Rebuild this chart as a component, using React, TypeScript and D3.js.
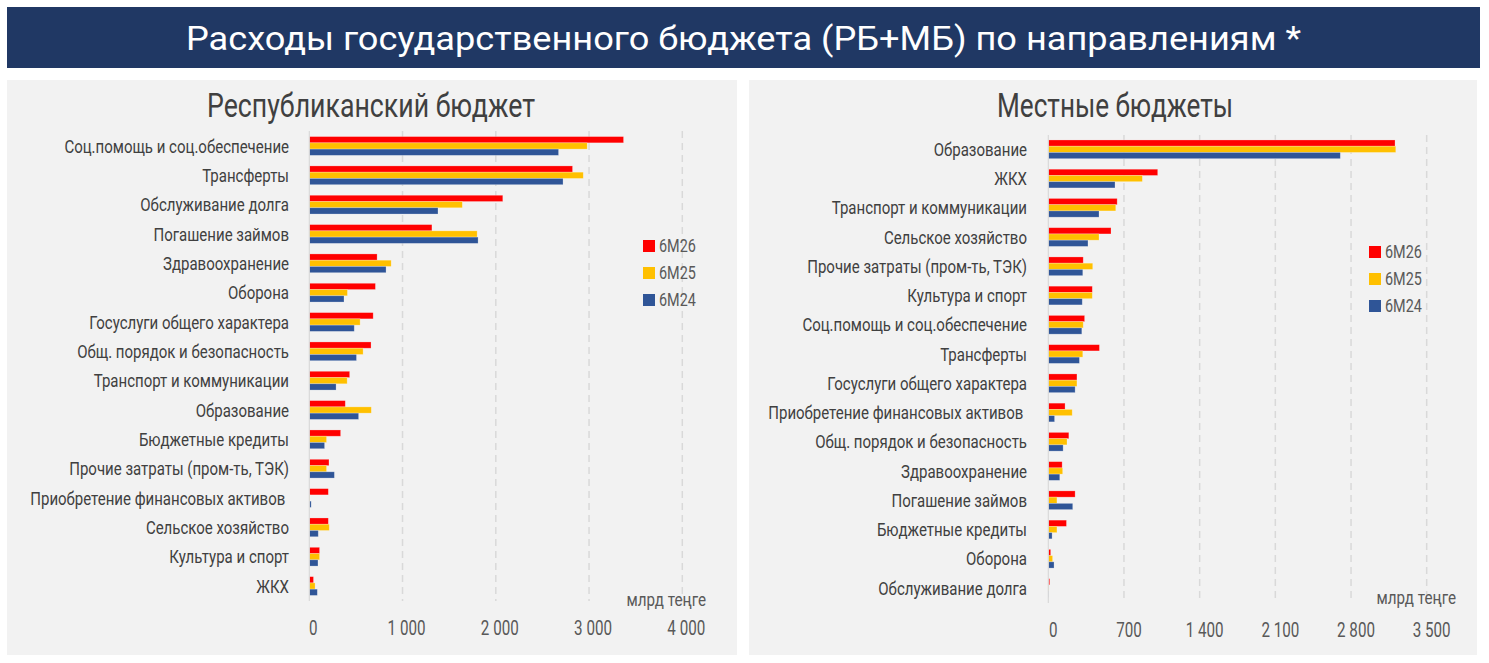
import * as d3 from 'd3';

// ---- data ----
const series = ['6М26', '6М25', '6М24'];
const colors = ['#FF0000', '#FFC000', '#2F5597'];

const rbCategories = [
  'Соц.помощь и соц.обеспечение',
  'Трансферты',
  'Обслуживание долга',
  'Погашение займов',
  'Здравоохранение',
  'Оборона',
  'Госуслуги общего характера',
  'Общ. порядок и безопасность',
  'Транспорт и коммуникации',
  'Образование',
  'Бюджетные кредиты',
  'Прочие затраты (пром-ть, ТЭК)',
  'Приобретение финансовых активов ',
  'Сельское хозяйство',
  'Культура и спорт',
  'ЖКХ',
];
const rb26 = [3370, 2823, 2075, 1315, 727, 709, 685, 662, 433, 386, 336, 211, 204, 204, 110, 45];
const rb25 = [2980, 2938, 1641, 1800, 878, 409, 545, 577, 406, 665, 185, 185, 7, 214, 110, 62];
const rb24 = [2673, 2721, 1380, 1810, 823, 372, 482, 506, 287, 529, 164, 269, 20, 96, 93, 86];
const rbTicks = [0, 1000, 2000, 3000, 4000];

const mbCategories = [
  'Образование',
  'ЖКХ',
  'Транспорт и коммуникации',
  'Сельское хозяйство',
  'Прочие затраты (пром-ть, ТЭК)',
  'Культура и спорт',
  'Соц.помощь и соц.обеспечение',
  'Трансферты',
  'Госуслуги общего характера',
  'Приобретение финансовых активов ',
  'Общ. порядок и безопасность',
  'Здравоохранение',
  'Погашение займов',
  'Бюджетные кредиты',
  'Оборона',
  'Обслуживание долга',
];
const mb26 = [3207, 1012, 637, 580, 323, 407, 336, 473, 265, 155, 190, 128, 248, 168, 22, 13];
const mb25 = [3214, 870, 624, 469, 411, 407, 323, 319, 265, 221, 173, 133, 80, 80, 40, 4];
const mb24 = [2701, 617, 469, 367, 319, 314, 310, 288, 248, 58, 137, 106, 226, 35, 53, 4];
const mbTicks = [0, 700, 1400, 2100, 2800, 3500];

const FONT = "Roboto, 'Noto Sans', sans-serif";
const fmt = d3.formatLocale({ decimal: ',', thousands: ' ', grouping: [3], currency: ['', ''] }).format(',');

// condensed text: Roboto squeezed horizontally
const CText = ({ x, y, children, size, sx = 0.8, anchor = 'start', fill = '#404040' }: any) => (
  <g transform={`translate(${x},${y}) scale(${sx},1)`}>
    <text
      textAnchor={anchor}
      dominantBaseline="central"
      fontSize={size}
      fontFamily={FONT}
      fill={fill}
      style={{ whiteSpace: 'pre' }}
    >
      {children}
    </text>
  </g>
);

const Panel = ({ cfg }: { cfg: any }) => {
  const { categories, values, ticks, px } = cfg;
  const x = d3.scaleLinear().domain([0, ticks[ticks.length - 1]]).range([px.x0, px.x1]);
  const y = d3.scaleBand().domain(categories).range([px.yTop, px.yBottom]).paddingInner(0.36).paddingOuter(0.18);
  const ys = d3.scaleBand().domain(series).range([0, y.bandwidth()]);

  return (
    <g>
      <rect x={px.left} y={80} width={px.width} height={575} fill="#F2F2F2" />
      <text
        x={px.titleX}
        y={105}
        textAnchor="middle"
        dominantBaseline="central"
        fontSize={34}
        fontFamily={FONT}
        fill="#404040"
        textLength={px.titleW}
        lengthAdjust="spacingAndGlyphs"
      >
        {cfg.title}
      </text>

      {/* grid */}
      {ticks.slice(1).map((t: number) => (
        <line
          key={t}
          x1={x(t)}
          x2={x(t)}
          y1={px.gridTop}
          y2={px.gridBottom}
          stroke="#D9D9D9"
          strokeWidth={1.5}
          strokeDasharray="7 5"
        />
      ))}

      {/* bars */}
      {categories.map((c: string, i: number) =>
        series.map((s, j) => (
          <rect
            key={c + s}
            x={x(0)}
            y={(y(c) as number) + (ys(s) as number)}
            width={x(values[j][i]) - x(0)}
            height={ys.bandwidth()}
            fill={colors[j]}
            stroke="#ffffff"
            strokeOpacity={0.35}
            strokeWidth={0.7}
          />
        ))
      )}

      <line x1={x(0)} x2={x(0)} y1={px.gridTop} y2={px.gridBottom} stroke="#D9D9D9" strokeWidth={1.2} />

      {/* category labels */}
      {categories.map((c: string) => (
        <CText key={c} x={px.labelX} y={(y(c) as number) + y.bandwidth() / 2} size={19} sx={0.79} anchor="end">
          {c}
        </CText>
      ))}

      {/* tick labels */}
      {ticks.map((t: number) => (
        <CText key={t} x={x(t) + px.tickShift} y={px.tickY} size={20} sx={0.76} anchor="middle" fill="#595959">
          {fmt(t)}
        </CText>
      ))}
      <CText x={px.unitX} y={px.unitY} size={19} sx={0.8} anchor="end" fill="#595959">
        млрд теңге
      </CText>

      {/* legend */}
      {series.map((s, j) => (
        <g key={s}>
          <rect x={px.legX} y={px.legY + j * 27 - 6} width={12} height={12} fill={colors[j]} />
          <CText x={px.legX + 16} y={px.legY + j * 27} size={18} sx={0.8} fill="#595959">
            {s}
          </CText>
        </g>
      ))}
    </g>
  );
};

const leftCfg = {
  title: 'Республиканский бюджет',
  categories: rbCategories,
  values: [rb26, rb25, rb24],
  ticks: rbTicks,
  px: {
    left: 7, width: 730, titleX: 371, titleW: 328,
    x0: 309.3, x1: 682.3, yTop: 131.3, yBottom: 600.7, gridTop: 131, gridBottom: 601,
    labelX: 289, tickShift: 4, tickY: 628, unitX: 706, unitY: 599, legX: 643, legY: 246,
  },
};

const rightCfg = {
  title: 'Местные бюджеты',
  categories: mbCategories,
  values: [mb26, mb25, mb24],
  ticks: mbTicks,
  px: {
    left: 749, width: 728, titleX: 1115, titleW: 236,
    x0: 1048.3, x1: 1426.7, yTop: 134.7, yBottom: 602.6, gridTop: 135, gridBottom: 603,
    labelX: 1027, tickShift: 5, tickY: 630, unitX: 1456, unitY: 597, legX: 1369, legY: 252,
  },
};

export default function App() {
  return (
    <svg width={1489} height={663} style={{ position: 'absolute', left: 0, top: 0, background: '#fff' }}>
      <rect x={7} y={7} width={1473} height={61} fill="#203864" />
      <text
        x={743.5}
        y={38}
        textAnchor="middle"
        dominantBaseline="central"
        fontSize={33}
        fontFamily={FONT}
        fill="#ffffff"
        textLength={1115}
        lengthAdjust="spacingAndGlyphs"
      >
        Расходы государственного бюджета (РБ+МБ) по направлениям *
      </text>
      <Panel cfg={leftCfg} />
      <Panel cfg={rightCfg} />
    </svg>
  );
}
